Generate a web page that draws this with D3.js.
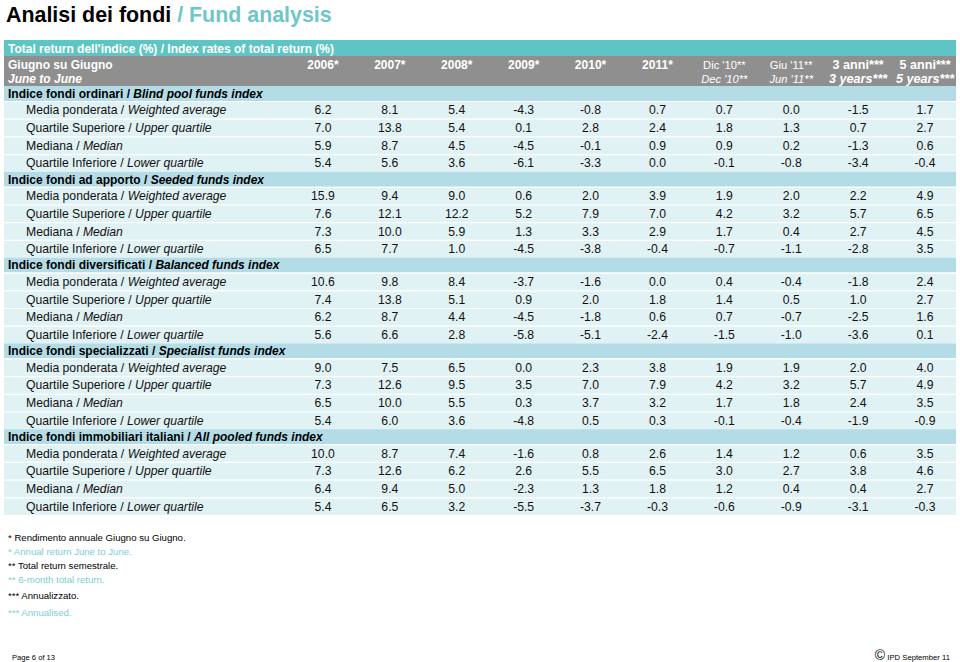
<!DOCTYPE html>
<html><head><meta charset="utf-8">
<script src="https://cdn.jsdelivr.net/npm/d3@7"></script>
<style>body{margin:0;background:#fff;}svg{display:block;font-family:"Liberation Sans",Arial,sans-serif;}</style>
</head><body><svg id="c" width="960" height="662"></svg>
<script>
const columnsTop = ["2006*","2007*","2008*","2009*","2010*","2011*","Dic '10**","Giu '11**","3 anni***","5 anni***"];
const columnsBottom = ["","","","","","","Dec '10**","Jun '11**","3 years***","5 years***"];
const rowLabelsIt = ["Media ponderata","Quartile Superiore","Mediana","Quartile Inferiore"];
const rowLabelsEn = ["Weighted average","Upper quartile","Median","Lower quartile"];
const sectionIt = ["Indice fondi ordinari","Indice fondi ad apporto","Indice fondi diversificati","Indice fondi specializzati","Indice fondi immobiliari italiani"];
const sectionEn = ["Blind pool funds index","Seeded funds index","Balanced funds index","Specialist funds index","All pooled funds index"];
const blindPool = [
  [6.2,8.1,5.4,-4.3,-0.8,0.7,0.7,0.0,-1.5,1.7],
  [7.0,13.8,5.4,0.1,2.8,2.4,1.8,1.3,0.7,2.7],
  [5.9,8.7,4.5,-4.5,-0.1,0.9,0.9,0.2,-1.3,0.6],
  [5.4,5.6,3.6,-6.1,-3.3,0.0,-0.1,-0.8,-3.4,-0.4]];
const seeded = [
  [15.9,9.4,9.0,0.6,2.0,3.9,1.9,2.0,2.2,4.9],
  [7.6,12.1,12.2,5.2,7.9,7.0,4.2,3.2,5.7,6.5],
  [7.3,10.0,5.9,1.3,3.3,2.9,1.7,0.4,2.7,4.5],
  [6.5,7.7,1.0,-4.5,-3.8,-0.4,-0.7,-1.1,-2.8,3.5]];
const balanced = [
  [10.6,9.8,8.4,-3.7,-1.6,0.0,0.4,-0.4,-1.8,2.4],
  [7.4,13.8,5.1,0.9,2.0,1.8,1.4,0.5,1.0,2.7],
  [6.2,8.7,4.4,-4.5,-1.8,0.6,0.7,-0.7,-2.5,1.6],
  [5.6,6.6,2.8,-5.8,-5.1,-2.4,-1.5,-1.0,-3.6,0.1]];
const specialist = [
  [9.0,7.5,6.5,0.0,2.3,3.8,1.9,1.9,2.0,4.0],
  [7.3,12.6,9.5,3.5,7.0,7.9,4.2,3.2,5.7,4.9],
  [6.5,10.0,5.5,0.3,3.7,3.2,1.7,1.8,2.4,3.5],
  [5.4,6.0,3.6,-4.8,0.5,0.3,-0.1,-0.4,-1.9,-0.9]];
const allPooled = [
  [10.0,8.7,7.4,-1.6,0.8,2.6,1.4,1.2,0.6,3.5],
  [7.3,12.6,6.2,2.6,5.5,6.5,3.0,2.7,3.8,4.6],
  [6.4,9.4,5.0,-2.3,1.3,1.8,1.2,0.4,0.4,2.7],
  [5.4,6.5,3.2,-5.5,-3.7,-0.3,-0.6,-0.9,-3.1,-0.3]];
const sectionData = [blindPool, seeded, balanced, specialist, allPooled];
const footIt = ["* Rendimento annuale Giugno su Giugno.","** Total return semestrale.","*** Annualizzato."];
const footEn = ["* Annual return June to June.","** 6-month total return.","*** Annualised."];

const svg = d3.select("#c");
const TEAL = "#5fc5c4", GRAY = "#8f8f8f", SEC = "#b4dce7", ROW = "#e1f2f4", TITLE_TEAL = "#6cc7c6", FOOT_TEAL = "#79cfcf";
const L = 4, R = 956;
const fmt = v => d3.format(".1f")(v).replace("\u2212", "-");

// Title
const t = svg.append("text").attr("x", 6).attr("y", 22).attr("font-size", 21.4).attr("font-weight", "bold");
t.append("tspan").attr("fill", "#000").text("Analisi dei fondi ");
t.append("tspan").attr("fill", TITLE_TEAL).text("/ Fund analysis");

const x = d3.scaleBand().domain(d3.range(columnsTop.length)).range([289.5, 958.5]);
const cx = i => x(i) + x.bandwidth() / 2;

// Header rows
svg.append("rect").attr("x", L).attr("y", 40).attr("width", R - L).attr("height", 16).attr("fill", TEAL);
svg.append("text").attr("x", 8).attr("y", 52.5).attr("fill", "#fff").attr("font-size", 12).attr("font-weight", "bold")
  .text("Total return dell'indice (%) / Index rates of total return (%)");
svg.append("rect").attr("x", L).attr("y", 56).attr("width", R - L).attr("height", 30).attr("fill", GRAY);
svg.append("text").attr("x", 8).attr("y", 68.5).attr("fill", "#fff").attr("font-size", 12).attr("font-weight", "bold").text("Giugno su Giugno");
svg.append("text").attr("x", 8).attr("y", 83).attr("fill", "#fff").attr("font-size", 12).attr("font-weight", "bold").attr("font-style", "italic").text("June to June");
columnsTop.forEach((c, i) => {
  const small = i >= 6 && i < 8, big = i >= 8;
  const fs = small ? 11.2 : big ? 12.6 : 12;
  const fw = small ? "normal" : "bold";
  svg.append("text").attr("x", cx(i)).attr("y", 68.5).attr("text-anchor", "middle").attr("fill", "#fff")
    .attr("font-size", fs).attr("font-weight", fw).text(c);
  if (columnsBottom[i]) svg.append("text").attr("x", cx(i)).attr("y", 83).attr("text-anchor", "middle").attr("fill", "#fff")
    .attr("font-size", fs).attr("font-weight", fw).attr("font-style", "italic").text(columnsBottom[i]);
});

// Body rows
const SH = 15, DH = 17.7;
let y = 86;
sectionData.forEach((sec, s) => {
  svg.append("rect").attr("x", L).attr("y", y).attr("width", R - L).attr("height", SH).attr("fill", SEC);
  const st = svg.append("text").attr("x", 8).attr("y", y + SH / 2 + 4.3).attr("font-size", 12).attr("font-weight", "bold").attr("fill", "#000");
  st.append("tspan").text(sectionIt[s] + " / ");
  st.append("tspan").attr("font-style", "italic").text(sectionEn[s]);
  y += SH;
  sec.forEach((vals, r) => {
    svg.append("rect").attr("x", L).attr("y", y).attr("width", R - L).attr("height", DH).attr("fill", ROW);
    svg.append("line").attr("x1", L).attr("x2", R).attr("y1", y + 0.5).attr("y2", y + 0.5).attr("stroke", "#fff").attr("stroke-width", 1.2);
    const ty = y + DH / 2 + 4.5;
    const lt = svg.append("text").attr("x", 26).attr("y", ty).attr("font-size", 12.2).attr("fill", "#111");
    lt.append("tspan").text(rowLabelsIt[r] + " / ");
    lt.append("tspan").attr("font-style", "italic").text(rowLabelsEn[r]);
    vals.forEach((v, i) => {
      svg.append("text").attr("x", cx(i)).attr("y", ty).attr("text-anchor", "middle").attr("font-size", 12.2).attr("fill", "#111").text(fmt(v));
    });
    y += DH;
  });
});

// Footnotes
const fy = [541, 555, 569, 583, 599, 616];
footIt.forEach((f, i) => {
  svg.append("text").attr("x", 8).attr("y", fy[i * 2]).attr("font-size", 9.6).attr("fill", "#000").text(f);
  svg.append("text").attr("x", 8).attr("y", fy[i * 2 + 1]).attr("font-size", 9.6).attr("fill", FOOT_TEAL).text(footEn[i]);
});
svg.append("text").attr("x", 12).attr("y", 660).attr("font-size", 7.6).attr("fill", "#000").text("Page 6 of 13");
const cp = svg.append("text").attr("x", 950).attr("y", 660).attr("text-anchor", "end").attr("fill", "#000");
cp.append("tspan").attr("font-size", 14).text("©");
cp.append("tspan").attr("font-size", 7.7).text(" IPD September 11");
</script></body></html>
